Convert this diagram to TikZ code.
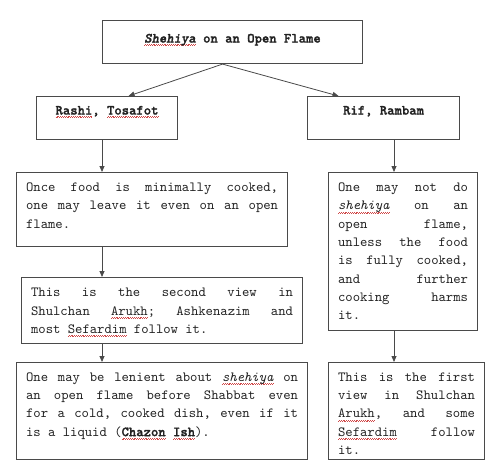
\documentclass[tikz,border=0pt]{standalone}
\usepackage{fontspec}
\setmainfont{lmmono10-regular.otf}[ItalicFont=lmmono10-italic.otf, BoldFont=lmmonolt10-bold.otf, BoldItalicFont=lmmonolt10-boldoblique.otf, BoldFeatures={FakeBold=1.5}, BoldItalicFeatures={FakeBold=1.5}]
\usetikzlibrary{arrows.meta}
\definecolor{ink}{HTML}{222222}
\definecolor{edge}{HTML}{4A4A4A}
\definecolor{squig}{HTML}{D04848}
\newsavebox\sqbox
\newlength\sqw
\newcommand\sq[1]{\sbox\sqbox{#1}\sqw=\wd\sqbox\rlap{\raisebox{-3.2pt}[0pt][0pt]{\color{squig}\hbox to \sqw{\xleaders\hbox{\rule[0pt]{0.9pt}{0.5pt}\rule[0.8pt]{0.9pt}{0.5pt}}\hfil}}}\usebox\sqbox}
\newcommand\fmt{\fontsize{14pt}{18.3pt}\selectfont\frenchspacing\spaceskip=7.35pt plus 20pt\relax\xspaceskip=\spaceskip\hyphenpenalty=10000\exhyphenpenalty=10000\tolerance=10000\relax}
\newcommand\bp[4]{\parbox[c][#1][t]{#2}{\fmt\vspace*{#3}\strut #4}}
\tikzset{
  box/.style={draw=edge, line width=1.1pt, anchor=north west, inner xsep=9.5pt, inner ysep=0pt, text=ink},
  arr/.style={draw=edge, line width=0.8pt, -{Triangle[length=6pt,width=5pt]}}
}
\begin{document}
\begin{tikzpicture}[x=1pt,y=-1pt]
\useasboundingbox (0,0) rectangle (500,471);
\fill[white] (0,0) rectangle (500,471);
\node[box] (title) at (102,20) {\bp{43pt}{241pt}{9.2pt}{\centering\textbf{\textit{\sq{Shehiya}} on an Open Flame}}};
\node[box] (rashi) at (36,96) {\bp{43pt}{122pt}{5.2pt}{\centering\textbf{\sq{Rashi}, \sq{Tosafot}}}};
\node[box] (rif) at (307,96) {\bp{43pt}{133pt}{5.2pt}{\centering\textbf{Rif, Rambam}}};
\node[box] (a1) at (16,172) {\bp{74pt}{252pt}{6.2pt}{Once food is minimally cooked,\linebreak one may leave it even on an open\linebreak flame.}};
\node[box] (a2) at (21,277) {\bp{66pt}{262pt}{6.4pt}{This is the second view in\linebreak Shulchan \sq{Arukh}; Ashkenazim and\linebreak most \sq{Sefardim} follow it.}};
\node[box] (a3) at (16,362) {\bp{97pt}{272pt}{5.9pt}{One may be lenient about \textit{\sq{shehiya}} on\linebreak an open flame before Shabbat even\linebreak for a cold, cooked dish, even if it\linebreak is a liquid (\textbf{\sq{Chazon} \sq{Ish}}).}};
\node[box] (b1) at (328,172) {\bp{158pt}{130pt}{6.2pt}{One may not do\linebreak \textit{\sq{shehiya}} on an\linebreak open flame,\linebreak unless the food\linebreak is fully cooked,\linebreak and further\linebreak cooking harms\linebreak it.}};
\node[box] (b2) at (328,362) {\bp{97pt}{137pt}{5.9pt}{This is the first\linebreak view in Shulchan\linebreak \sq{Arukh}, and some\linebreak \sq{Sefardim} follow\linebreak it.}};
\coordinate (lx) at (102,0);
\coordinate (rx) at (394,0);
\draw[arr] ([xshift=-10pt]title.south) -- ([xshift=21.5pt]rashi.north);
\draw[arr] ([xshift=-10pt]title.south) -- ([xshift=-45pt]rif.north);
\draw[arr] (rashi.south -| lx) -- (a1.north -| lx);
\draw[arr] (a1.south -| lx) -- (a2.north -| lx);
\draw[arr] (a2.south -| lx) -- (a3.north -| lx);
\draw[arr] (rif.south -| rx) -- (b1.north -| rx);
\draw[arr] (b1.south -| rx) -- (b2.north -| rx);
\end{tikzpicture}
\end{document}
